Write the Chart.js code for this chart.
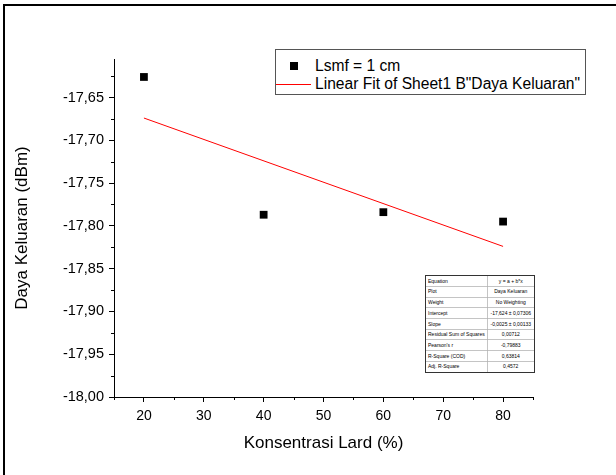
<!DOCTYPE html>
<html>
<head>
<meta charset="utf-8">
<script src="https://cdn.jsdelivr.net/npm/chart.js@4.4.1/dist/chart.umd.min.js"></script>
<style>
  html, body { margin: 0; padding: 0; background: #fff; overflow: hidden; }
  body { width: 616px; height: 475px; position: relative; font-family: Arial, "Liberation Sans", sans-serif; }
  #chart { position: absolute; left: 0; top: 0; }
  .frame { position: absolute; left: 3px; top: 4px; width: 1000px; height: 1000px; border: 2px solid #000; pointer-events: none; }
  .legend { position: absolute; left: 275px; top: 49px; width: 309px; height: 44px; border: 1px solid #555; background: #fff; font-size: 15.6px; color: #000; }
  .legend .row { position: absolute; left: 0; height: 18px; line-height: 18px; white-space: nowrap; }
  .legend .key { position: absolute; left: 0; top: 0; width: 36px; height: 18px; }
  .legend .label { position: absolute; left: 39px; top: 0; }
  /* stats box is laid out at double size and scaled down so the tiny text is not clamped */
  .stats { position: absolute; left: 425px; top: 275px; width: 216px; transform: scale(0.5); transform-origin: 0 0;
           border: 2px solid #333; background: #fff; font-size: 10px; color: #000; }
  .stats .row { display: flex; height: 20.4px; line-height: 20px; }
  .stats .row + .row { border-top: 1px solid #888; }
  .stats .name { width: 118px; padding-left: 4px; border-right: 1px solid #888; white-space: nowrap; overflow: hidden; }
  .stats .value { flex: 1; text-align: center; white-space: nowrap; overflow: hidden; }
</style>
</head>
<body>
<canvas id="chart" width="616" height="475"></canvas>
<div class="legend" id="legend"></div>
<div class="stats" id="stats"></div>
<div class="frame"></div>
<script>
// measured output power at each lard concentration
const concentration = [20, 40, 60, 80];
const outputPower = [-17.626, -17.787, -17.784, -17.795];

// linear fit y = a + b*x evaluated at the ends of the data range
const fitX = [20, 80];
const fitY = [-17.674, -17.824];

const xMajorTicks = [20, 30, 40, 50, 60, 70, 80];
const xMinorTicks = [15, 25, 35, 45, 55, 65, 75, 85];
const yMajorTicks = [-18.00, -17.95, -17.90, -17.85, -17.80, -17.75, -17.70, -17.65];
const yMinorTicks = [-17.975, -17.925, -17.875, -17.825, -17.775, -17.725, -17.675, -17.625];

const seriesLabel = 'Lsmf = 1 cm';
const fitLabel = 'Linear Fit of Sheet1 B"Daya Keluaran"';

const statNames = ['Equation', 'Plot', 'Weight', 'Intercept', 'Slope', 'Residual Sum of Squares', "Pearson's r", 'R-Square (COD)', 'Adj. R-Square'];
const statValues = ['y = a + b*x', 'Daya Keluaran', 'No Weighting', '-17,624 \u00b1 0,07306', '-0,0025 \u00b1 0,00133', '0,00712', '-0,79883', '0,63814', '0,4572'];

const FONT = 'Arial, "Liberation Sans", sans-serif';
Chart.defaults.font.family = FONT;
Chart.defaults.color = '#000';

function commaLabel(value) {
  return value.toFixed(2).replace('.', ',');
}

function keepTicks(list) {
  return scale => {
    scale.ticks = list.map(v => ({ value: v }));
  };
}

// short outward ticks between the labelled ones
const minorTicks = {
  id: 'minorTicks',
  afterDraw(chart) {
    const { ctx, scales: { x, y } } = chart;
    ctx.save();
    ctx.strokeStyle = '#000';
    ctx.lineWidth = 1;
    ctx.beginPath();
    xMinorTicks.forEach(v => {
      const px = Math.round(x.getPixelForValue(v)) + 0.5;
      ctx.moveTo(px, x.top);
      ctx.lineTo(px, x.top + 3);
    });
    yMinorTicks.forEach(v => {
      const py = Math.round(y.getPixelForValue(v)) + 0.5;
      ctx.moveTo(y.right, py);
      ctx.lineTo(y.right - 3, py);
    });
    ctx.stroke();
    ctx.restore();
  }
};

new Chart(document.getElementById('chart'), {
  type: 'scatter',
  data: {
    datasets: [
      {
        label: seriesLabel,
        data: concentration.map((x, i) => ({ x, y: outputPower[i] })),
        pointStyle: 'rect',
        pointRadius: 5.5,
        backgroundColor: '#000',
        borderColor: '#000',
        borderWidth: 0
      },
      {
        type: 'line',
        label: fitLabel,
        data: fitX.map((x, i) => ({ x, y: fitY[i] })),
        borderColor: '#ff0000',
        borderWidth: 1,
        pointRadius: 0,
        fill: false
      }
    ]
  },
  options: {
    responsive: false,
    animation: false,
    devicePixelRatio: 1,
    layout: { padding: { top: 59, right: 83, left: 0, bottom: 0 } },
    plugins: { legend: { display: false }, tooltip: { enabled: false } },
    scales: {
      x: {
        type: 'linear',
        min: 15,
        max: 85,
        afterBuildTicks: keepTicks(xMajorTicks),
        afterFit: scale => { scale.height = 78; },
        ticks: { font: { size: 14 }, padding: 6, maxRotation: 0, callback: v => String(v) },
        grid: { drawOnChartArea: false, tickLength: 5, color: '#000', tickColor: '#000' },
        border: { display: true, color: '#000', width: 1 },
        title: { display: true, text: 'Konsentrasi Lard (%)', font: { size: 17 }, padding: { top: 4, bottom: 21 } }
      },
      y: {
        type: 'linear',
        min: -18,
        max: -17.605,
        afterBuildTicks: keepTicks(yMajorTicks),
        afterFit: scale => { scale.width = 114; },
        ticks: { font: { size: 14.5 }, padding: 5, callback: v => commaLabel(v) },
        grid: { drawOnChartArea: false, tickLength: 5, color: '#000', tickColor: '#000' },
        border: { display: true, color: '#000', width: 1 },
        title: { display: true, text: 'Daya Keluaran (dBm)', font: { size: 17 }, padding: { top: 12, bottom: 4 } }
      }
    }
  },
  plugins: [minorTicks]
});

// legend box
const legend = document.getElementById('legend');
legend.innerHTML = `
  <div class="row" style="top:7px">
    <span class="key"><span style="position:absolute;left:14px;top:5px;width:8px;height:8px;background:#000"></span></span>
    <span class="label">${seriesLabel}</span>
  </div>
  <div class="row" style="top:25px">
    <span class="key"><span style="position:absolute;left:0;top:9px;width:35px;height:1px;background:#ff0000"></span></span>
    <span class="label">${fitLabel.replace(/"/g, '&quot;')}</span>
  </div>`;

// fit statistics table
document.getElementById('stats').innerHTML = statNames.map((name, i) =>
  `<div class="row"><div class="name">${name}</div><div class="value">${statValues[i]}</div></div>`
).join('');
</script>
</body>
</html>
